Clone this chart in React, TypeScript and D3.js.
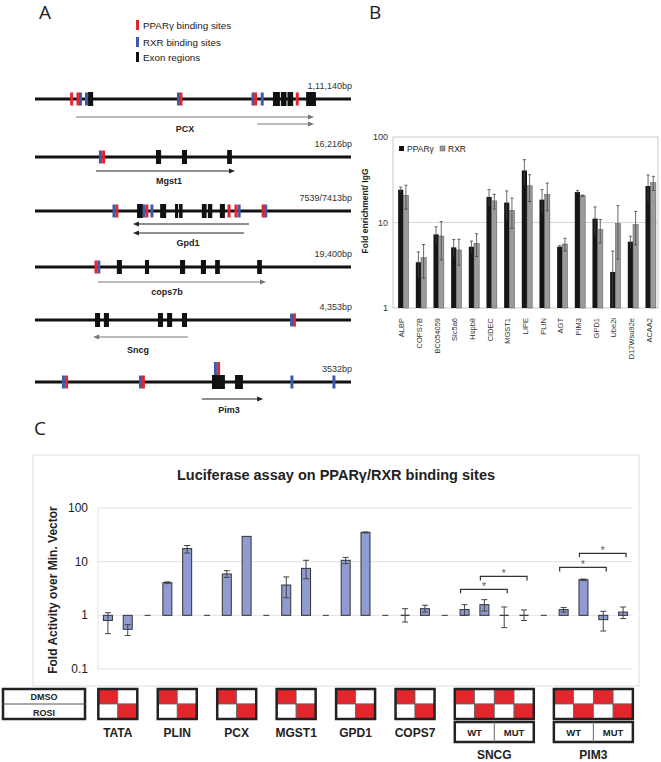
import React from 'react';
import * as d3 from 'd3';

// ---------- Panel A data (positions in % of drawn locus) ----------
const geneNames = ['PCX', 'Mgst1', 'Gpd1', 'cops7b', 'Sncg', 'Pim3'];
const geneSizes = ['1,11,140bp', '16,216bp', '7539/7413bp', '19,400bp', '4,353bp', '3532bp'];
const pparSites = [
  [11.6, 13.6, 46.2, 69.8, 83.0],
  [21.7],
  [25.9, 35.4, 61.4, 63.6, 72.2],
  [19.3],
  [82.1],
  [10.0, 34.3],
];
const rxrSites = [
  [14.4, 16.3, 45.4, 69.0, 71.9],
  [20.7],
  [25.0, 34.5, 37.0, 64.6, 73.0],
  [20.2],
  [81.2],
  [9.0, 33.4, 81.3, 94.6],
];
// raised (above exon) sites: [row, rxrPos, pparPos]
const raisedSites = [[5, 57.1, 58.1]];
const exons = [
  [[16.8, 18.4], [75.3, 77.5], [77.8, 79.6], [79.9, 81.7], [85.8, 88.9]],
  [[38.3, 39.9], [46.5, 48.1], [60.8, 62.3]],
  [[32.3, 34.2], [39.6, 41.5], [44.3, 45.3], [45.6, 46.7], [52.8, 54.3], [54.7, 56.1], [58.5, 60.1]],
  [[25.9, 27.5], [34.8, 36.1], [45.9, 47.5], [52.5, 54.1], [57.0, 58.5], [70.3, 71.8]],
  [[19.0, 20.6], [21.8, 23.4], [38.9, 40.5], [41.8, 43.4], [46.5, 48.1]],
  [[56.0, 60.1], [63.3, 65.8]],
];
// transcripts: [from, to(arrow head), offset below line]
const transcripts = [
  [[13.0, 88.3, 18], [70.3, 88.3, 25]],
  [[19.3, 63.3, 14]],
  [[67.7, 31.0, 13], [66.1, 31.0, 22]],
  [[19.9, 73.1, 15]],
  [[48.4, 18.4, 17]],
  [[52.8, 72.2, 17]],
];
const transcriptGray = [true, false, false, true, true, false];
const geneLabelPos = [47.5, 42.4, 48.4, 41.8, 32.6, 61.4];
const geneLabelDy = [29, 23, 31, 24, 29, 27];
const rowY = [99, 157, 211, 267, 320, 382];

// ---------- Panel B data ----------
const chipGenes = ['ALBP', 'COPS7B', 'BC054059', 'Slc5a6', 'Hspb8', 'CIDEC', 'MGST1', 'LIPE', 'PLIN', 'AGT', 'PIM3', 'GPD1', 'Ube2i', 'D17Wsu92e', 'ACAA2'];
const pparFold = [24.2, 3.43, 7.25, 5.12, 5.21, 19.9, 17.1, 40.6, 18.5, 5.21, 22.7, 11.1, 2.64, 5.96, 26.7];
const pparErr = [1.8, 1.1, 1.65, 1.2, 0.85, 4.3, 6.3, 13.7, 5.7, 0.15, 1.0, 4.1, 2.0, 0.95, 9.3];
const rxrFold = [20.8, 3.88, 6.94, 4.77, 5.7, 17.9, 13.9, 26.9, 21.3, 5.6, 20.6, 8.3, 9.74, 9.48, 29.2];
const rxrErr = [6.5, 1.65, 3.3, 1.6, 1.7, 3.5, 5.4, 9.3, 7.6, 0.95, 0.3, 2.55, 6.0, 4.0, 5.5];
const chipTicks = [1, 10, 100];

// ---------- Panel C data ----------
const lucGroups = ['TATA', 'PLIN', 'PCX', 'MGST1', 'GPD1', 'COPS7', 'SNCG', 'PIM3'];
const lucValues = [[0.8, 0.55], [4.07, 17.5], [5.9, 29.6], [3.67, 7.5], [10.6, 35.1], [1.0, 1.33], [1.28, 1.58, 1.0, 1.0], [1.28, 4.62, 0.83, 1.15]];
const lucErr = [
  [[0.456, 1.12], [0.42, 0.67]],
  [[3.9, 4.2], [14.5, 20]],
  [[5.1, 6.8], null],
  [[2.13, 5.2], [4.8, 10.6]],
  [[9.2, 12], [34.4, 35.8]],
  [[0.75, 1.33], [1.15, 1.54]],
  [[1.0, 1.58], [1.2, 1.96], [0.59, 1.43], [0.8, 1.26]],
  [[1.15, 1.4], [4.45, 4.75], [0.51, 1.19], [0.87, 1.43]],
];
const minVector = 1;
const lucTicks = [0.1, 1, 10, 100];
const lucTickLabels = ['0.1', '1', '10', '100'];
// significance brackets: [slotFrom, slotTo, level]
const sigBrackets = [[18, 20, 3.05], [19, 21, 5.32], [23, 25, 7.82], [24, 26, 14.3]];
const mutGroups = ['SNCG', 'PIM3'];

const RED = '#e3262c';
const BLUE = '#3c5ca9';
const FONT = "'Liberation Sans', Arial, sans-serif";
const LETTER_FONT = "'Open Sans', 'DejaVu Sans', sans-serif";

export default function App() {
  // Panel A
  const xA = d3.scaleLinear().domain([0, 100]).range([35, 351]);

  // Panel B
  const xB = d3.scaleBand<string>().domain(chipGenes).range([393, 658]);
  const yB = d3.scaleLog().domain([1, 100]).range([308, 137]);

  // Panel C: slots
  type Slot = { g: number; k: number; dash: boolean };
  const slots: Slot[] = [];
  lucGroups.forEach((_, gi) => {
    lucValues[gi].forEach((__, k) => slots.push({ g: gi, k, dash: false }));
    if (gi < lucGroups.length - 1) slots.push({ g: gi, k: -1, dash: true });
  });
  const xC = d3.scaleBand<number>().domain(d3.range(slots.length)).range([98, 633]);
  const yC = d3.scaleLog().domain([0.1, 100]).range([669, 508]);
  const cx = (i: number) => (xC(i) as number) + xC.bandwidth() / 2;
  const groupSlots = lucGroups.map((_, gi) => slots.map((s, i) => (!s.dash && s.g === gi ? i : -1)).filter(i => i >= 0));

  const arrowHead = (x: number, y: number, dir: number, color: string, key: string) => (
    <path key={key} d={`M${x},${y} l${-dir * 6},-2.5 l0,5 z`} fill={color} />
  );

  return (
    <svg width={661} height={762} style={{ position: 'absolute', left: 0, top: 0, background: '#fff' }} fontFamily={FONT}>
      <rect x={0} y={0} width={661} height={762} fill="#fff" />
      {/* Panel letters */}
      <text x={39} y={19} fontSize={19} fontFamily={LETTER_FONT} fill="#222">A</text>
      <text x={369} y={19} fontSize={19} fontFamily={LETTER_FONT} fill="#222">B</text>
      <text x={34} y={435} fontSize={19} fontFamily={LETTER_FONT} fill="#222">C</text>

      {/* Panel A legend */}
      <rect x={136} y={20} width={3} height={10} fill={RED} />
      <text x={143} y={29} fontSize={9.8} fill="#222">PPARγ binding sites</text>
      <rect x={136} y={37} width={3} height={10} fill={BLUE} />
      <text x={143} y={46} fontSize={9.8} fill="#222">RXR binding sites</text>
      <rect x={136} y={52} width={3} height={10} fill="#111" />
      <text x={143} y={61} fontSize={9.8} fill="#222">Exon regions</text>

      {/* Panel A genes */}
      {geneNames.map((g, r) => {
        const y = rowY[r];
        const tcol = transcriptGray[r] ? '#777' : '#222';
        return (
          <g key={g}>
            <line x1={xA(0)} x2={xA(100)} y1={y} y2={y} stroke="#111" strokeWidth={3} />
            <text x={352} y={y - 10} fontSize={9} fill="#333" textAnchor="end">{geneSizes[r]}</text>
            {exons[r].map(([s, e], i) => (
              <rect key={'e' + i} x={xA(s)} y={y - 7} width={xA(e) - xA(s)} height={14} fill="#111" />
            ))}
            {rxrSites[r].map((u, i) => (
              <rect key={'r' + i} x={xA(u) - 1.5} y={y - 6.5} width={3} height={13} fill={BLUE} />
            ))}
            {pparSites[r].map((u, i) => (
              <rect key={'p' + i} x={xA(u) - 1.5} y={y - 6.5} width={3} height={13} fill={RED} />
            ))}
            {raisedSites.filter(s => s[0] === r).map((s, i) => (
              <g key={'rs' + i}>
                <rect x={xA(s[1]) - 1.5} y={y - 20} width={3} height={13} fill={BLUE} />
                <rect x={xA(s[2]) - 1.5} y={y - 20} width={3} height={13} fill={RED} />
              </g>
            ))}
            {transcripts[r].map(([a, b, dy], i) => {
              const dir = b > a ? 1 : -1;
              return (
                <g key={'t' + i}>
                  <line x1={xA(a)} x2={xA(b) - dir * 4} y1={y + dy} y2={y + dy} stroke={tcol} strokeWidth={1.1} />
                  {arrowHead(xA(b), y + dy, dir, tcol, 'ah' + i)}
                </g>
              );
            })}
            <text x={xA(geneLabelPos[r])} y={y + geneLabelDy[r] + 4} fontSize={9} fontWeight="bold" fill="#222" textAnchor="middle">{g}</text>
          </g>
        );
      })}

      {/* Panel B */}
      <g>
        <line x1={393} x2={658} y1={yB(10)} y2={yB(10)} stroke="#ccc" strokeWidth={0.8} />
        <rect x={393} y={137} width={265} height={171} fill="none" stroke="#bbb" strokeWidth={0.8} />
        {chipTicks.map(t => (
          <text key={t} x={388} y={yB(t) + 3} fontSize={9} fill="#333" textAnchor="end">{t}</text>
        ))}
        <text transform={`translate(368,${211}) rotate(-90)`} fontSize={8.5} fontWeight="bold" fill="#222" textAnchor="middle">Fold enrichment/ IgG</text>
        <rect x={399} y={146} width={5} height={5} fill="#111" />
        <text x={407} y={152} fontSize={8.5} fill="#222">PPARγ</text>
        <rect x={440} y={146} width={5} height={5} fill="#999" stroke="#555" strokeWidth={0.5} />
        <text x={448} y={152} fontSize={8.5} fill="#222">RXR</text>
        {chipGenes.map((g, i) => {
          const c = (xB(g) as number) + xB.bandwidth() / 2 + 1.5;
          const bw = 5.2;
          const pv = pparFold[i];
          const rv = rxrFold[i];
          const pe = pparErr[i];
          const re = rxrErr[i];
          return (
            <g key={g}>
              <rect x={c - bw} y={yB(pv)} width={bw} height={yB(1) - yB(pv)} fill="#151515" />
              <rect x={c} y={yB(rv)} width={bw} height={yB(1) - yB(rv)} fill="#9b9b9b" stroke="#555" strokeWidth={0.5} />
              <line x1={c - bw / 2} x2={c - bw / 2} y1={yB(pv + pe)} y2={yB(Math.max(pv - pe, 1.01))} stroke="#444" strokeWidth={0.8} />
              <line x1={c - bw / 2 - 1.6} x2={c - bw / 2 + 1.6} y1={yB(pv + pe)} y2={yB(pv + pe)} stroke="#444" strokeWidth={0.8} />
              <line x1={c + bw / 2} x2={c + bw / 2} y1={yB(rv + re)} y2={yB(Math.max(rv - re, 1.01))} stroke="#444" strokeWidth={0.8} />
              <line x1={c + bw / 2 - 1.6} x2={c + bw / 2 + 1.6} y1={yB(rv + re)} y2={yB(rv + re)} stroke="#444" strokeWidth={0.8} />
              <line x1={c + bw / 2 - 1.6} x2={c + bw / 2 + 1.6} y1={yB(Math.max(rv - re, 1.01))} y2={yB(Math.max(rv - re, 1.01))} stroke="#444" strokeWidth={0.8} />
              <text transform={`translate(${c - 1.5},318) rotate(-90)`} dy="0.35em" fontSize={7.5} fill="#333" textAnchor="end">{g}</text>
            </g>
          );
        })}
      </g>

      {/* Panel C */}
      <g>
        <rect x={33} y={455} width={606} height={231} fill="none" stroke="#ddd" strokeWidth={1} />
        <text x={336} y={480} fontSize={14.5} fontWeight="bold" fill="#222" textAnchor="middle">Luciferase assay on PPARγ/RXR binding sites</text>
        {lucTicks.map((t, i) => (
          <g key={t}>
            <line x1={98} x2={633} y1={yC(t)} y2={yC(t)} stroke="#e2e2e2" strokeWidth={1} />
            <text x={88} y={yC(t) + 4} fontSize={12} fill="#222" textAnchor="end">{lucTickLabels[i]}</text>
          </g>
        ))}
        <line x1={98} x2={98} y1={yC(100)} y2={yC(0.1)} stroke="#e2e2e2" strokeWidth={1} />
        <text transform={`translate(57,590) rotate(-90)`} fontSize={12} fontWeight="bold" fill="#222" textAnchor="middle">Fold Activity over Min. Vector</text>
        {slots.map((s, i) => {
          const c = cx(i);
          if (s.dash) {
            return <line key={i} x1={c - 3} x2={c + 3} y1={yC(minVector)} y2={yC(minVector)} stroke="#333" strokeWidth={1} />;
          }
          const v = lucValues[s.g][s.k];
          const err = lucErr[s.g][s.k];
          const y0 = yC(1);
          const y1 = yC(v);
          return (
            <g key={i}>
              {Math.abs(y1 - y0) < 0.5 ? (
                <line x1={c - 4.5} x2={c + 4.5} y1={y0} y2={y0} stroke="#333" strokeWidth={1.2} />
              ) : (
                <rect x={c - 4.5} y={Math.min(y0, y1)} width={9} height={Math.abs(y1 - y0)} fill="#8f9bd1" stroke="#333" strokeWidth={1} />
              )}
              {err && (
                <g stroke="#444" strokeWidth={1}>
                  <line x1={c} x2={c} y1={yC(err[0])} y2={yC(err[1])} />
                  <line x1={c - 3} x2={c + 3} y1={yC(err[0])} y2={yC(err[0])} />
                  <line x1={c - 3} x2={c + 3} y1={yC(err[1])} y2={yC(err[1])} />
                </g>
              )}
            </g>
          );
        })}
        {sigBrackets.map(([a, b, lv], i) => {
          const x1 = cx(a) - 4;
          const x2 = cx(b) + 3;
          const y = yC(lv);
          return (
            <g key={'sig' + i}>
              <path d={`M${x1},${y + 4}V${y}H${x2}V${y + 4}`} fill="none" stroke="#333" strokeWidth={1.2} />
              <text x={(x1 + x2) / 2} y={y + 1} fontSize={10} fill="#555" textAnchor="middle">*</text>
            </g>
          );
        })}
      </g>

      {/* Treatment boxes */}
      <g>
        <rect x={3} y={689} width={82} height={30} fill="#fff" stroke="#222" strokeWidth={2.5} />
        <line x1={3} x2={85} y1={704} y2={704} stroke="#555" strokeWidth={1} />
        <text x={44} y={700} fontSize={9} fontWeight="bold" fill="#222" textAnchor="middle">DMSO</text>
        <text x={44} y={716} fontSize={9} fontWeight="bold" fill="#222" textAnchor="middle">ROSI</text>
        {lucGroups.map((g, gi) => {
          const idx = groupSlots[gi];
          const n = idx.length;
          const center = (cx(idx[0]) + cx(idx[n - 1])) / 2;
          const w = n * 20 - 1;
          const x0 = center - w / 2;
          const cw = w / n;
          const isMut = mutGroups.includes(g);
          return (
            <g key={g}>
              {idx.map((_, k) => (
                <g key={k}>
                  <rect x={x0 + k * cw} y={689} width={cw} height={15} fill={k % 2 === 0 ? RED : '#fff'} stroke="#666" strokeWidth={0.8} />
                  <rect x={x0 + k * cw} y={704} width={cw} height={15} fill={k % 2 === 1 ? RED : '#fff'} stroke="#666" strokeWidth={0.8} />
                </g>
              ))}
              <rect x={x0} y={689} width={w} height={30} fill="none" stroke="#222" strokeWidth={2.5} />
              {isMut && (
                <g>
                  <rect x={x0} y={722} width={w} height={20} fill="#fff" stroke="#222" strokeWidth={2.5} />
                  <line x1={center} x2={center} y1={722} y2={742} stroke="#666" strokeWidth={1} />
                  <text x={x0 + w / 4} y={736} fontSize={9.5} fontWeight="bold" fill="#222" textAnchor="middle">WT</text>
                  <text x={x0 + (3 * w) / 4} y={736} fontSize={9.5} fontWeight="bold" fill="#222" textAnchor="middle">MUT</text>
                </g>
              )}
              <text x={center} y={isMut ? 759 : 737} fontSize={12} fontWeight="bold" fill="#222" textAnchor="middle">{g}</text>
            </g>
          );
        })}
      </g>
    </svg>
  );
}
